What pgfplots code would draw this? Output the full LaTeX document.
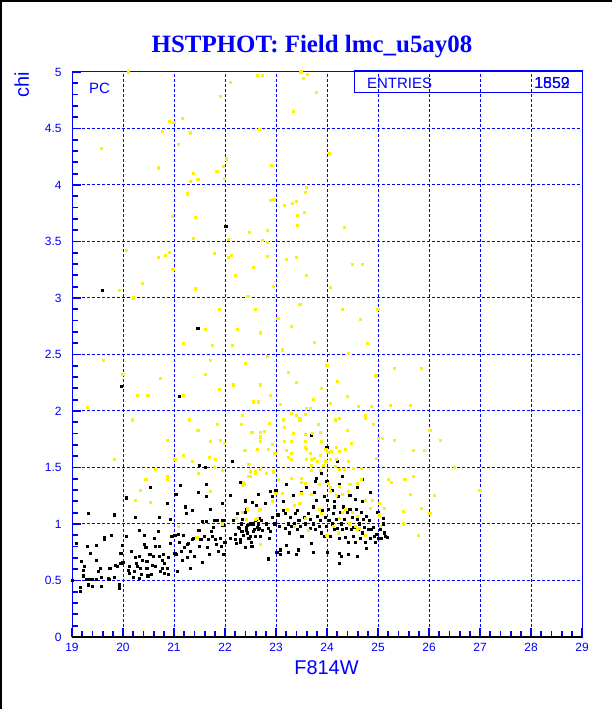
\documentclass[border=0pt]{standalone}
\usepackage{fontspec}
\setmainfont{Liberation Sans}
\newfontfamily\titlefont{Liberation Serif}
\usepackage{pgfplots}
\pgfplotsset{compat=1.18}
\begin{document}
\begin{tikzpicture}
\begin{axis}[
  at={(0,0)}, anchor=south west, scale only axis,
  width=510bp, height=565bp,
  xmin=19, xmax=29, ymin=0, ymax=5,
  xtick={19,20,...,29}, ytick={0,0.5,...,5},
  minor x tick num=4, minor y tick num=4,
  tick align=inside, xtick pos=left, ytick pos=left,
  major tick length=9bp, minor tick length=6bp,
  every tick/.append style={draw=blue, line width=1.8bp, solid},
  grid=major,
  major grid style={blue, dash pattern=on 3bp off 2bp, line width=1bp},
  axis line style={blue, line width=1bp},
  tick label style={font=\fontsize{12}{14}\selectfont, text=blue},
  /pgf/number format/assume math mode=true,
  xticklabel style={yshift=-3bp},
  yticklabel style={xshift=-7bp},
  clip=false,
]
% black points
\addplot[only marks, color=black, mark=square*, mark size=1.05bp, mark options={line width=0pt}] coordinates {
(19.01,0.50)(19.09,0.83)(19.17,0.44)(19.17,0.40)(19.19,0.67)(19.24,0.62)(19.22,0.59)(19.22,0.54)(19.29,0.51)(19.32,1.09)
(19.30,0.80)(19.32,0.46)(19.35,0.51)(19.41,0.45)(19.37,0.74)(19.41,0.51)(19.48,0.81)(19.48,0.68)(19.48,0.51)(19.52,0.58)
(19.56,0.61)(19.58,0.45)(19.58,0.53)(19.63,0.86)(19.64,0.88)(19.71,0.52)(19.73,0.61)(19.73,0.51)(19.75,0.61)(19.78,0.90)
(19.83,0.53)(19.84,1.08)(19.86,0.63)(19.90,0.62)(19.93,0.46)(19.94,0.43)(19.96,0.74)(19.96,0.65)(19.99,0.81)(20.00,0.66)
(20.06,0.89)(20.06,1.23)(20.10,0.59)(20.13,0.62)(20.12,0.56)(20.17,0.76)(20.20,0.53)(20.22,0.58)(20.24,1.06)(20.25,0.70)
(20.27,0.65)(20.29,0.62)(20.32,0.52)(20.33,0.94)(20.33,0.71)(20.35,0.61)(20.37,0.55)(20.39,0.68)(20.43,0.90)(20.43,0.82)
(20.45,0.79)(20.47,0.67)(20.47,0.61)(20.49,0.54)(20.53,0.73)(20.54,1.32)(20.55,0.55)(20.57,0.63)(20.59,0.71)(20.61,0.87)
(20.63,0.80)(20.63,0.62)(20.69,0.93)(20.71,1.06)(20.71,0.71)(20.71,0.80)(20.73,0.58)(20.77,0.68)(20.77,0.61)(20.80,0.73)
(20.82,0.65)(20.82,0.56)(20.87,1.18)(20.88,0.61)(20.90,0.55)(20.90,0.70)(20.94,1.04)(20.94,0.83)(20.96,0.89)(21.02,0.74)
(21.02,0.90)(21.04,1.26)(21.05,0.73)(21.06,0.58)(21.08,0.91)(21.10,0.84)(21.13,1.34)(21.14,0.76)(21.16,0.68)(21.18,0.90)
(21.21,0.79)(21.22,1.15)(21.24,1.09)(21.27,0.70)(21.27,0.82)(21.29,0.83)(21.32,0.61)(21.33,0.76)(21.37,1.12)(21.37,0.86)
(21.39,0.87)(21.41,0.71)(21.48,1.28)(21.49,0.94)(21.50,0.80)(21.53,0.86)(21.55,0.66)(21.56,1.02)(21.59,0.89)(21.62,1.50)
(21.63,1.02)(21.63,1.35)(21.63,1.24)(21.65,0.79)(21.67,0.86)(21.69,0.73)(21.71,1.13)(21.73,0.93)(21.76,0.89)(21.78,0.97)
(21.80,1.03)(21.82,0.86)(21.84,0.82)(21.86,1.03)(21.88,0.76)(21.91,0.87)(21.93,0.80)(21.95,1.18)(21.96,1.03)(21.96,0.99)
(21.98,0.73)(22.00,0.84)(22.10,1.25)(22.10,0.87)(22.15,1.55)(22.16,1.03)(22.20,0.91)(22.20,0.86)(22.22,0.83)(22.24,1.09)
(22.27,0.97)(22.31,0.86)(22.33,1.00)(22.37,0.90)(22.40,1.20)(22.40,0.79)(22.42,0.94)(22.44,0.99)(22.47,0.87)(22.50,0.89)
(22.53,0.80)(22.55,1.00)(22.57,0.95)(22.59,1.03)(22.60,0.89)(22.63,0.97)(22.65,1.26)(22.67,1.05)(22.67,0.96)
(23.70,1.78)(24.20,1.55)(24.00,1.68)(23.80,1.40)(23.77,1.38)(24.69,1.39)(22.30,1.37)(22.65,1.26)(22.89,1.29)(22.94,1.24)
(22.40,1.21)(22.54,1.19)(22.61,1.16)(22.42,1.13)(22.34,1.04)(22.40,1.10)(22.29,0.96)(22.35,0.93)(22.42,0.97)(22.51,1.00)
(22.44,0.92)(22.55,0.93)(22.52,0.84)(22.65,1.00)(22.71,1.03)(22.65,0.95)(22.73,0.94)(22.81,1.00)(22.86,0.96)(22.90,0.93)
(22.88,0.87)(22.85,0.69)(22.94,1.06)(22.98,1.00)(23.04,1.08)(23.06,0.98)(23.08,0.77)(23.08,0.73)(23.14,1.12)(23.18,1.09)
(23.18,0.96)(23.21,0.81)(23.24,1.00)(23.27,0.92)(23.28,1.06)(23.31,0.98)(23.36,1.00)(23.38,1.09)(23.42,1.12)(23.42,0.95)
(23.44,0.77)(23.45,1.03)(23.48,0.98)(23.51,0.89)(23.55,1.06)(23.57,1.00)(23.63,1.09)(23.67,0.96)(23.68,1.04)(23.70,0.83)
(23.73,1.15)(23.74,1.00)(23.78,0.95)(23.80,1.21)(23.81,1.07)(23.85,0.98)(23.88,1.03)(23.90,0.92)(23.92,1.12)(23.95,0.89)
(23.97,1.06)(23.99,0.98)(24.01,1.21)(24.03,1.13)(24.05,1.03)(24.07,0.89)(24.10,1.00)(24.12,1.09)(24.14,0.95)(24.15,1.15)
(24.19,1.04)(24.20,0.96)(24.22,1.24)(24.24,0.87)(24.24,0.74)(24.25,0.65)(24.27,1.10)(24.29,1.00)(24.31,0.95)(24.33,1.15)
(24.35,1.04)(24.37,0.88)(24.39,0.96)(24.40,1.10)(24.42,0.84)(24.44,1.00)(24.45,1.13)(24.48,0.95)(24.50,1.06)(24.52,0.89)
(24.53,0.97)(24.55,0.84)(24.57,1.13)(24.59,1.04)(24.60,0.71)(24.62,0.95)(24.64,1.00)(24.66,0.87)(24.67,1.10)(24.69,0.92)
(24.71,1.04)(24.73,0.97)(24.75,0.84)(24.77,0.78)(24.78,1.07)(24.82,0.95)(24.84,1.03)(24.86,0.87)(24.88,0.95)(24.90,1.21)
(24.92,0.97)(24.93,0.89)(24.95,0.84)(24.98,0.91)(25.01,0.87)(25.07,0.87)(25.14,0.89)(22.31,0.84)(22.32,0.93)(22.61,1.04)
(22.69,0.89)(23.02,0.75)(23.24,0.75)(23.41,0.73)(23.74,0.75)(24.01,0.75)(24.42,0.73)(24.29,0.71)
(23.00,1.30)(23.20,1.35)(23.50,1.28)(23.60,1.32)(23.90,1.45)(24.00,1.38)(24.10,1.30)(24.30,1.42)(24.45,1.25)(24.60,1.32)
(24.70,1.20)(24.85,1.28)(25.00,1.10)(25.10,1.05)(23.35,1.25)(23.15,1.20)(22.80,1.18)(24.25,1.35)(24.55,1.22)(23.75,1.28)
(23.95,1.24)(24.15,1.20)(25.05,0.95)(25.12,0.92)(25.18,0.88)(25.10,1.00)
(19.59,3.07)(19.97,2.22)(21.47,2.73)(22.02,3.63)(21.10,2.13)(21.50,1.52)
};
% yellow points
\addplot[only marks, color=yellow, mark=square*, mark size=1.05bp, mark options={line width=0pt}] coordinates {
(20.10,5.00)(22.64,4.97)(22.74,4.97)(23.49,5.00)(23.62,4.98)(23.54,4.94)(22.10,4.91)(23.80,4.82)(21.92,4.78)(23.35,4.65)
(20.91,4.56)(21.00,4.55)(21.17,4.59)(20.78,4.47)(21.33,4.46)(22.67,4.49)(19.58,4.32)(21.09,4.36)(20.69,4.15)(22.03,4.23)
(21.97,4.16)(21.84,4.12)(21.85,4.12)(21.39,4.10)(21.47,4.05)(21.33,4.03)(21.99,4.06)(22.92,4.17)(23.59,3.98)(21.27,3.92)
(23.57,3.93)(23.33,3.84)(22.96,3.87)(22.90,3.86)(23.16,3.82)(23.41,3.85)(23.56,3.76)(20.97,3.72)(21.43,3.71)(23.43,3.73)
(23.43,3.64)(22.48,3.58)(22.84,3.60)(21.39,3.53)(22.06,3.52)(22.84,3.49)(20.06,3.42)(20.92,3.40)(20.70,3.36)(21.80,3.39)
(22.12,3.38)(22.06,3.36)(22.84,3.37)(23.20,3.34)(23.41,3.36)(24.05,4.28)(24.35,3.62)(24.70,3.30)
(20.39,3.13)(20.84,3.38)(20.98,3.25)(21.43,3.08)(22.55,3.27)(22.73,3.51)(22.45,3.01)(22.24,2.72)(22.69,2.69)(22.14,2.58)
(22.41,2.42)(22.84,2.48)(23.12,2.54)(23.25,2.34)(23.41,2.25)(23.75,2.61)(24.06,3.09)(24.65,2.81)(23.47,2.94)(23.04,2.82)
(23.73,2.10)(24.20,2.26)(24.41,2.13)(24.96,2.31)(25.33,2.38)(25.86,2.38)(24.43,2.51)(21.61,2.72)(21.76,2.58)(21.18,2.60)
(20.73,2.29)(20.49,2.14)(20.29,2.14)(20.18,1.92)(20.00,2.32)(19.94,3.07)(19.61,2.45)(21.18,2.14)(21.61,2.32)(21.90,2.19)
(22.16,2.23)(22.69,2.23)(22.90,2.14)(21.71,2.45)(22.35,1.96)(21.86,1.88)(21.47,1.83)(21.31,1.92)(20.88,1.74)(20.63,1.48)
(20.35,1.30)(19.84,1.57)(23.14,1.92)(23.47,1.92)(24.16,1.92)(24.41,1.83)(24.75,1.96)(25.24,2.05)(25.63,2.05)(26.02,1.83)
(26.22,1.74)(25.33,1.74)(25.20,1.39)(19.30,2.03)(20.20,3.00)(22.60,2.90)(22.95,3.10)(23.30,2.75)(23.60,3.20)(24.30,2.90)
(24.80,2.60)(24.00,2.40)(23.90,2.20)(22.20,3.20)(21.90,2.90)(24.50,3.30)(25.00,2.90)(26.50,1.50)(27.00,1.30)(25.50,1.00)
(26.10,1.25)(25.80,0.90)
(22.55,2.08)(22.65,2.08)(23.08,2.06)(23.60,2.02)(23.68,2.02)(24.07,2.07)(24.62,2.04)(24.88,2.04)(23.31,1.98)(23.41,1.96)
(23.58,1.97)(23.46,1.93)(22.87,1.89)(23.84,1.88)(22.33,1.88)(23.16,1.85)(24.24,1.93)(24.75,1.93)(24.92,1.88)(22.53,1.81)
(22.69,1.81)(22.78,1.82)(23.34,1.80)(23.57,1.79)(23.72,1.80)(23.88,1.81)(22.69,1.77)(22.70,1.73)(23.16,1.73)(23.31,1.73)
(23.57,1.73)(23.90,1.73)(25.01,1.76)(25.08,1.76)(22.93,1.70)(23.57,1.68)(23.60,1.66)(24.19,1.68)(22.40,1.65)(22.85,1.66)
(23.20,1.65)(23.98,1.66)(24.37,1.66)(24.48,1.71)(25.69,1.65)(25.91,1.65)(23.31,1.62)(22.98,1.62)(23.68,1.62)(23.87,1.61)
(24.09,1.64)(24.02,1.63)(24.25,1.64)(23.25,1.59)(23.60,1.57)(23.69,1.57)(23.75,1.58)(23.31,1.57)(23.81,1.55)(23.98,1.55)
(24.07,1.57)(24.18,1.57)(24.42,1.55)(24.97,1.58)(23.70,1.52)(23.93,1.52)(24.16,1.51)(24.24,1.48)(24.35,1.48)(24.52,1.49)
(24.68,1.49)(22.69,1.48)(22.50,1.46)(22.59,1.45)(22.82,1.45)(22.95,1.46)(23.05,1.39)(23.31,1.40)(23.50,1.40)(23.70,1.47)
(23.87,1.47)(23.50,1.37)(23.57,1.36)(22.37,1.37)(22.47,1.42)(23.85,1.35)(24.03,1.36)(24.07,1.32)(24.25,1.33)(24.45,1.35)
(24.60,1.36)(24.68,1.39)(25.27,1.37)(25.53,1.39)(25.69,1.42)(25.63,1.26)(23.00,1.27)(23.12,1.27)(23.50,1.27)(23.70,1.26)
(24.07,1.29)(24.18,1.25)(24.30,1.26)(24.43,1.29)(24.76,1.21)(24.90,1.21)(25.03,1.18)(25.86,1.14)(26.02,1.09)(25.50,1.11)
(25.12,1.14)(25.03,1.08)(22.93,1.20)(22.69,1.13)(22.44,1.14)(22.63,1.05)(23.23,1.13)(23.37,1.16)(23.47,1.18)(23.85,1.13)
(23.90,1.09)(24.30,1.10)(24.37,1.13)(24.50,1.10)(24.60,1.07)(24.86,1.14)(23.57,1.05)(24.12,0.98)(24.25,1.05)(24.44,1.00)
(24.55,0.98)(24.64,0.96)(24.75,0.90)(25.05,0.98)(23.37,0.98)(23.63,0.94)(22.70,0.82)(24.00,0.90)(24.22,0.92)(24.60,0.95)
(21.71,1.73)(21.92,1.74)(21.99,1.71)(21.18,1.61)(21.02,1.57)(21.36,1.55)(21.69,1.59)(21.82,1.57)(21.79,1.50)(21.95,1.47)
(21.48,1.45)(20.88,1.42)(20.88,1.39)(20.45,1.39)(21.72,1.29)(20.25,1.21)(20.54,1.19)(22.39,1.65)(22.63,1.66)(22.47,1.53)
(22.59,1.46)(22.49,1.42)(22.35,1.34)(22.39,1.35)(22.67,1.12)(22.35,1.10)(22.44,1.13)(22.23,1.05)(22.42,1.04)(22.59,1.04)
(21.08,0.98)(21.44,0.88)(21.45,0.88)(21.95,1.00)
};
\draw[black, line width=1.2bp] (axis cs:19,0) -- (axis cs:29,0);
\end{axis}
% bounding box of the whole picture
\path[use as bounding box] (-72bp,-72bp) rectangle (540bp,637bp);
\draw[black, line width=2bp] (-71bp,-72bp) -- (-71bp,636bp) -- (540bp,636bp);
% title
\node[anchor=base, text=blue, font=\titlefont\bfseries\fontsize{25}{30}\selectfont, inner sep=0pt] at (240bp,584bp) {HSTPHOT: Field lmc\_u5ay08};
% axis titles
\node[anchor=base, text=blue, font=\fontsize{20}{24}\selectfont, inner sep=0pt] at (254.5bp,-37bp) {F814W};
\node[anchor=base east, rotate=90, text=blue, font=\fontsize{20}{24}\selectfont, inner sep=0pt] at (-43bp,565bp) {chi};
% PC label
\node[anchor=base west, text=blue, font=\fontsize{15}{18}\selectfont, inner sep=0pt] at (17bp,543bp) {PC};
% stats box
\draw[blue, line width=1bp] (282bp,544bp) rectangle (510bp,566bp);
\node[anchor=base west, text=blue, font=\fontsize{15}{18}\selectfont, inner sep=0pt] at (295bp,548bp) {ENTRIES};
\node[anchor=base east, text=blue, font=\fontsize{16}{18}\selectfont, inner sep=0pt] at (498bp,548bp) {1852};
\node[anchor=base east, text=blue, font=\fontsize{16}{18}\selectfont, inner sep=0pt] at (498bp,548bp) {1559};
\end{tikzpicture}
\end{document}
